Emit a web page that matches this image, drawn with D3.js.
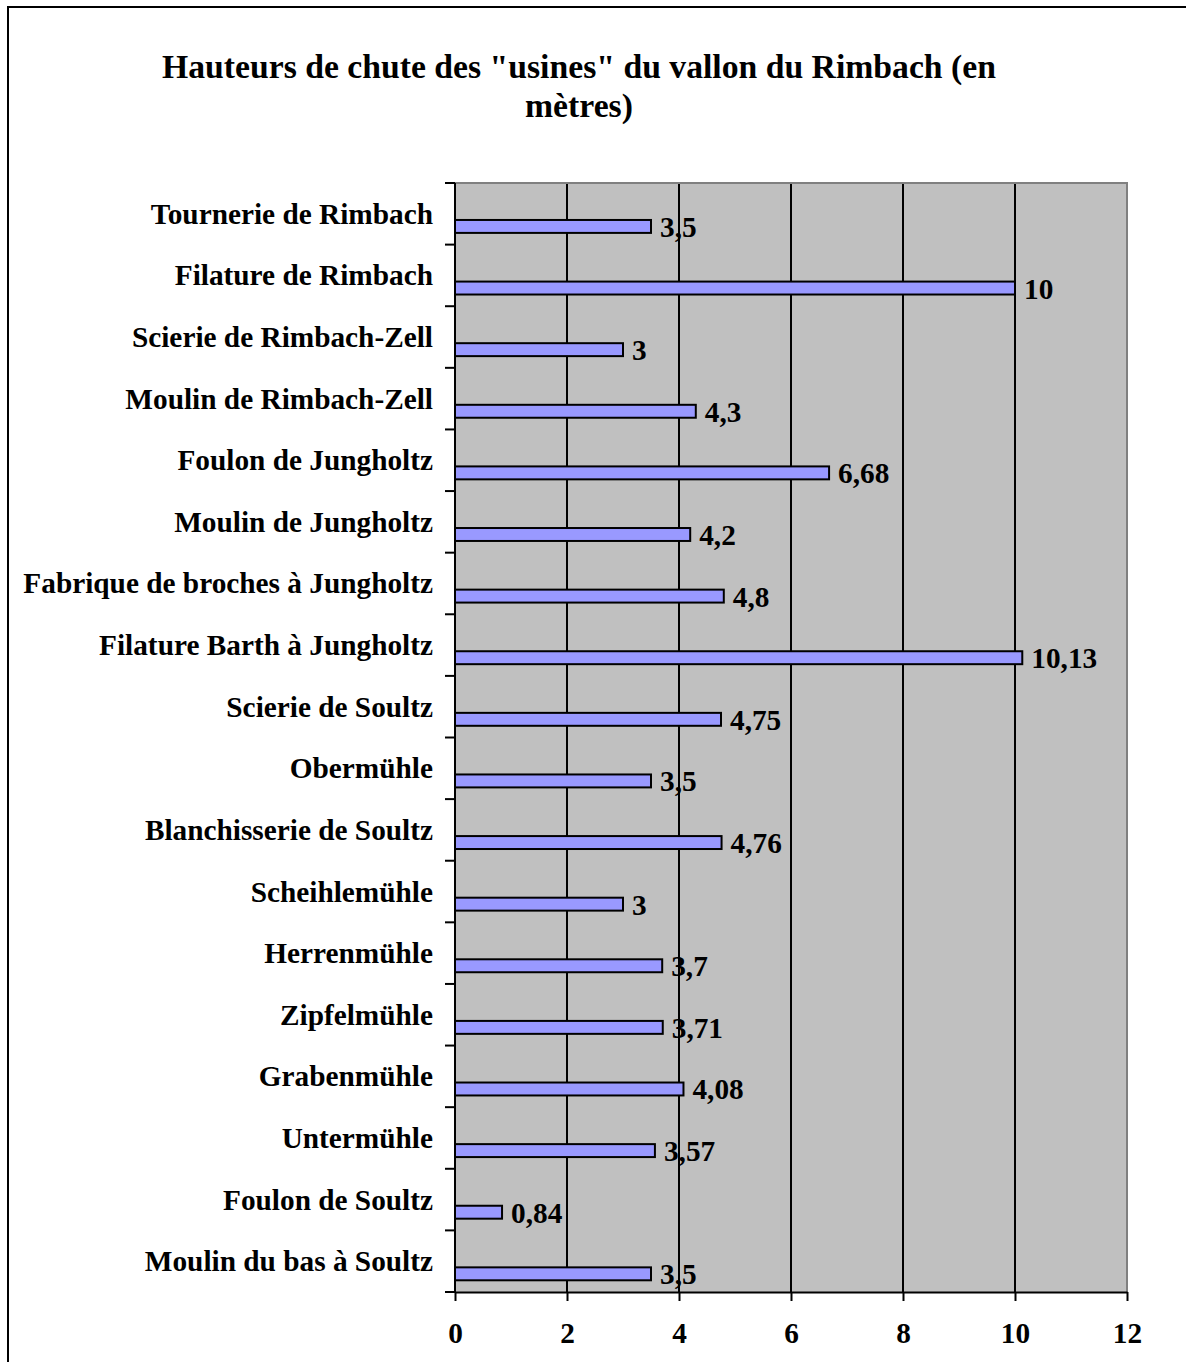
<!DOCTYPE html>
<html>
<head>
<meta charset="utf-8">
<script src="https://cdn.jsdelivr.net/npm/d3@7/dist/d3.min.js"></script>
<style>
  body { margin: 0; background: #fff; }
  svg { display: block; }
  text { font-family: "Liberation Serif", "Times New Roman", serif; font-weight: bold; fill: #000; }
</style>
</head>
<body>
<svg id="chart" width="1186" height="1362"></svg>
<script>
var categories = [
    "Tournerie de Rimbach",
    "Filature de Rimbach",
    "Scierie de Rimbach-Zell",
    "Moulin de Rimbach-Zell",
    "Foulon de Jungholtz",
    "Moulin de Jungholtz",
    "Fabrique de broches à Jungholtz",
    "Filature Barth à Jungholtz",
    "Scierie de Soultz",
    "Obermühle",
    "Blanchisserie de Soultz",
    "Scheihlemühle",
    "Herrenmühle",
    "Zipfelmühle",
    "Grabenmühle",
    "Untermühle",
    "Foulon de Soultz",
    "Moulin du bas à Soultz"
];
var hauteurs = [3.5, 10, 3, 4.3, 6.68, 4.2, 4.8, 10.13, 4.75, 3.5, 4.76, 3, 3.7, 3.71, 4.08, 3.57, 0.84, 3.5];
var xTicks = [0, 2, 4, 6, 8, 10, 12];
var titleLines = ["Hauteurs de chute des \"usines\" du vallon du Rimbach (en", "mètres)"];

function drawChart() {
    var svg = d3.select("svg#chart");

    var pLeft = 455, pRight = 1127, pTop = 183, pBottom = 1292;

    var x = d3.scaleLinear().domain([0, 12]).range([pLeft, pRight]);
    var y = d3.scaleBand().domain(categories).range([pTop, pBottom]);
    var bw = y.bandwidth();

    var fmt = v => String(v).replace(".", ",");

    // outer frame
    svg.append("rect")
        .attr("x", 8).attr("y", 7)
        .attr("width", 1190).attr("height", 1370)
        .attr("fill", "none")
        .attr("stroke", "#000")
        .attr("stroke-width", 2);

    // title
    svg.append("g")
        .selectAll("text")
        .data(titleLines)
        .enter()
        .append("text")
        .attr("x", 579)
        .attr("y", (d, i) => 78 + i * 39)
        .attr("text-anchor", "middle")
        .style("font-size", "33.7px")
        .text(d => d);

    // plot background
    svg.append("rect")
        .attr("x", pLeft).attr("y", pTop)
        .attr("width", pRight - pLeft).attr("height", pBottom - pTop)
        .attr("fill", "#c0c0c0");

    // gridlines
    svg.append("g")
        .selectAll("line")
        .data(xTicks.slice(1, -1))
        .enter()
        .append("line")
        .attr("x1", d => x(d)).attr("x2", d => x(d))
        .attr("y1", pTop).attr("y2", pBottom)
        .attr("stroke", "#000")
        .attr("stroke-width", 2);

    // plot border (top and right)
    svg.append("path")
        .attr("d", "M" + pLeft + "," + pTop + "H" + pRight + "V" + pBottom)
        .attr("fill", "none")
        .attr("stroke", "#808080")
        .attr("stroke-width", 2);

    // bars
    svg.append("g")
        .selectAll("rect")
        .data(categories)
        .enter()
        .append("rect")
        .attr("x", x(0))
        .attr("y", d => y(d) + bw * 0.6)
        .attr("width", (d, i) => x(hauteurs[i]) - x(0))
        .attr("height", bw * 0.21)
        .attr("fill", "#9999ff")
        .attr("stroke", "#000")
        .attr("stroke-width", 2);

    // value labels
    svg.append("g")
        .selectAll("text")
        .data(categories)
        .enter()
        .append("text")
        .attr("x", (d, i) => x(hauteurs[i]) + 9)
        .attr("y", d => y(d) + bw * 0.705 + 10.5)
        .style("font-size", "29.3px")
        .text((d, i) => fmt(hauteurs[i]));

    // category axis
    var yAxis = svg.append("g");
    yAxis.append("line")
        .attr("x1", pLeft).attr("x2", pLeft)
        .attr("y1", pTop).attr("y2", pBottom)
        .attr("stroke", "#000")
        .attr("stroke-width", 2);

    var bounds = categories.map(c => y(c)).concat([pBottom]);
    yAxis.selectAll("line.tick")
        .data(bounds)
        .enter()
        .append("line")
        .attr("class", "tick")
        .attr("x1", pLeft - 10).attr("x2", pLeft)
        .attr("y1", d => d).attr("y2", d => d)
        .attr("stroke", "#000")
        .attr("stroke-width", 2);

    yAxis.selectAll("text")
        .data(categories)
        .enter()
        .append("text")
        .attr("x", 433)
        .attr("y", d => y(d) + bw / 2 + 10)
        .attr("text-anchor", "end")
        .style("font-size", "29.3px")
        .text(d => d);

    // value axis
    var xAxis = svg.append("g")
        .attr("transform", "translate(0," + pBottom + ")")
        .call(d3.axisBottom(x).tickValues(xTicks).tickSize(9).tickSizeOuter(0).tickFormat(fmt));

    xAxis.select(".domain").attr("stroke", "#000").attr("stroke-width", 2);
    xAxis.selectAll(".tick line").attr("stroke", "#000").attr("stroke-width", 2);
    xAxis.selectAll(".tick text")
        .attr("y", 51)
        .attr("dy", null)
        .attr("fill", "#000")
        .style("font-size", "29.3px")
        .style("font-family", "Liberation Serif")
        .style("font-weight", "bold");
}

drawChart();
</script>
</body>
</html>
